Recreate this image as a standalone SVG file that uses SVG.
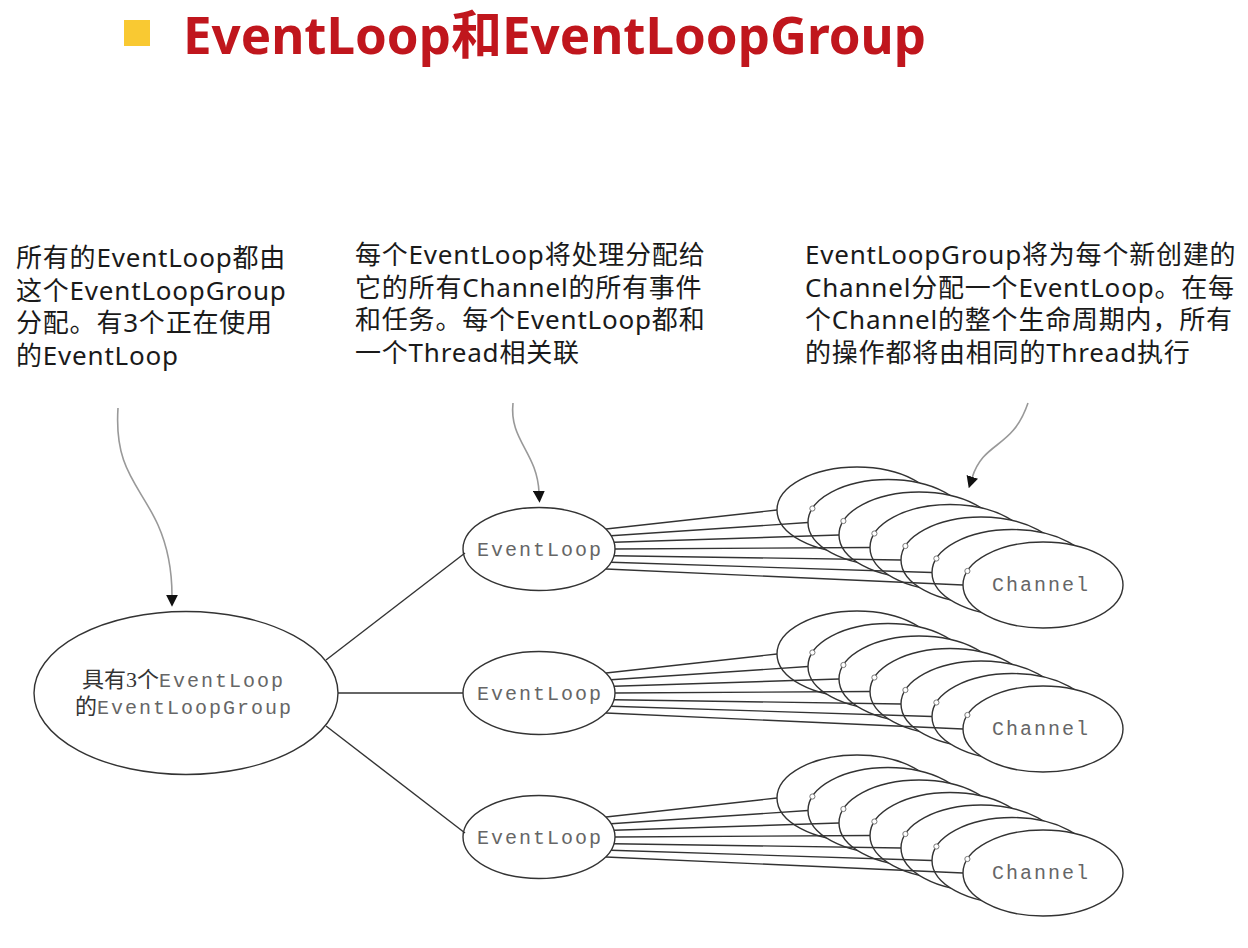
<svg xmlns="http://www.w3.org/2000/svg" xmlns:xlink="http://www.w3.org/1999/xlink" width="1248" height="948" viewBox="0 0 1248 948">
<style>
.note{font-family:"Noto Sans","Noto Sans CJK SC",sans-serif;font-size:26px;fill:#1a1a1a;letter-spacing:0.8px}
.mono{font-family:"Liberation Mono",monospace;font-size:20px;fill:#666;letter-spacing:2px}
.cjk{font-family:"Liberation Serif","Noto Sans CJK SC",serif;font-size:22px;fill:#333}
.shape{fill:#fff;stroke:#333;stroke-width:1.4}
.ln{stroke:#333;stroke-width:1.4;fill:none}
.dot{fill:#fff;stroke:#777;stroke-width:1}
.arr{stroke:#999;stroke-width:1.6;fill:none}
</style>
<defs>
<marker id="ahb" viewBox="0 0 10 10" refX="1" refY="5" markerWidth="12" markerHeight="12" orient="auto" markerUnits="userSpaceOnUse">
<path d="M0,0 L10,5 L0,10 z" fill="#111"/>
</marker>
<g id="stackShapes">
<ellipse class="shape" cx="857" cy="510" rx="80" ry="43"/>
<ellipse class="shape" cx="888" cy="522.5" rx="80" ry="43"/>
<ellipse class="shape" cx="919" cy="535" rx="80" ry="43"/>
<ellipse class="shape" cx="950" cy="547.5" rx="80" ry="43"/>
<ellipse class="shape" cx="981" cy="560" rx="80" ry="43"/>
<ellipse class="shape" cx="1012" cy="572.5" rx="80" ry="43"/>
<ellipse class="shape" cx="1043" cy="585" rx="80" ry="43"/>
<text class="mono" x="992" y="591">Channel</text>
</g>
<g id="fan">
<line class="ln" x1="606" y1="529" x2="777" y2="510"/>
<line class="ln" x1="611" y1="535.7" x2="808" y2="522.5"/>
<line class="ln" x1="614" y1="542.3" x2="839" y2="535"/>
<line class="ln" x1="615" y1="549" x2="870" y2="547.5"/>
<line class="ln" x1="614" y1="555.7" x2="901" y2="560"/>
<line class="ln" x1="611" y1="562.3" x2="932" y2="572.5"/>
<line class="ln" x1="606" y1="569" x2="963" y2="585"/>
<circle class="dot" cx="812.4" cy="508.5" r="2.6"/>
<circle class="dot" cx="843.4" cy="521" r="2.6"/>
<circle class="dot" cx="874.4" cy="533.5" r="2.6"/>
<circle class="dot" cx="905.4" cy="546" r="2.6"/>
<circle class="dot" cx="936.4" cy="558.5" r="2.6"/>
<circle class="dot" cx="967.4" cy="571" r="2.6"/>
</g>
</defs>
<rect width="1248" height="948" fill="#fff"/>

<g id="title">
<rect x="124" y="20" width="26" height="26" fill="#F9C932"/>
<text x="183" y="54" font-family="Noto Sans,Noto Sans CJK SC,sans-serif" font-weight="bold" font-size="52" fill="#C0161D" textLength="743" lengthAdjust="spacingAndGlyphs">EventLoop和EventLoopGroup</text>
</g>

<g id="note1">
<text class="note" x="16" y="267">所有的EventLoop都由</text>
<text class="note" x="16" y="299.5">这个EventLoopGroup</text>
<text class="note" x="16" y="332">分配。有3个正在使用</text>
<text class="note" x="16" y="364.5">的EventLoop</text>
</g>
<g id="note2">
<text class="note" x="355" y="264">每个EventLoop将处理分配给</text>
<text class="note" x="355" y="296.5">它的所有Channel的所有事件</text>
<text class="note" x="355" y="329">和任务。每个EventLoop都和</text>
<text class="note" x="355" y="361.5">一个Thread相关联</text>
</g>
<g id="note3">
<text class="note" x="805" y="264">EventLoopGroup将为每个新创建的</text>
<text class="note" x="805" y="296.5">Channel分配一个EventLoop。在每</text>
<text class="note" x="805" y="329">个Channel的整个生命周期内，所有</text>
<text class="note" x="805" y="361.5">的操作都将由相同的Thread执行</text>
</g>

<g id="group">
<ellipse class="shape" cx="186" cy="693" rx="152" ry="81.5"/>
<text x="82" y="687"><tspan class="cjk">具有3个</tspan><tspan class="mono">EventLoop</tspan></text>
<text x="75" y="714"><tspan class="cjk">的</tspan><tspan class="mono">EventLoopGroup</tspan></text>
</g>

<g id="eventloop1">
<ellipse class="shape" cx="539" cy="549" rx="76" ry="41.5"/>
<text class="mono" x="477" y="556">EventLoop</text>
</g>
<g id="eventloop2">
<ellipse class="shape" cx="539" cy="693" rx="76" ry="41.5"/>
<text class="mono" x="477" y="700">EventLoop</text>
</g>
<g id="eventloop3">
<ellipse class="shape" cx="539" cy="837" rx="76" ry="41.5"/>
<text class="mono" x="477" y="844">EventLoop</text>
</g>

<g id="channels1"><use xlink:href="#stackShapes"/></g>
<g id="channels2"><use xlink:href="#stackShapes" transform="translate(0,144)"/></g>
<g id="channels3"><use xlink:href="#stackShapes" transform="translate(0,288)"/></g>

<g id="connectors">
<line class="ln" x1="326" y1="660" x2="465" y2="553"/>
<line class="ln" x1="338" y1="693" x2="463" y2="693"/>
<line class="ln" x1="326" y1="726" x2="465" y2="833"/>
<use xlink:href="#fan"/>
<use xlink:href="#fan" transform="translate(0,144)"/>
<use xlink:href="#fan" transform="translate(0,288)"/>
<path class="arr" marker-end="url(#ahb)" d="M118,408 C114,470 140,485 158,525 C170,552 172,575 172,596"/>
<path class="arr" marker-end="url(#ahb)" d="M513,403 C509,440 537,452 539,492"/>
<path class="arr" marker-end="url(#ahb)" d="M1028,403 C1012,450 984,440 972,478"/>
</g>
</svg>
